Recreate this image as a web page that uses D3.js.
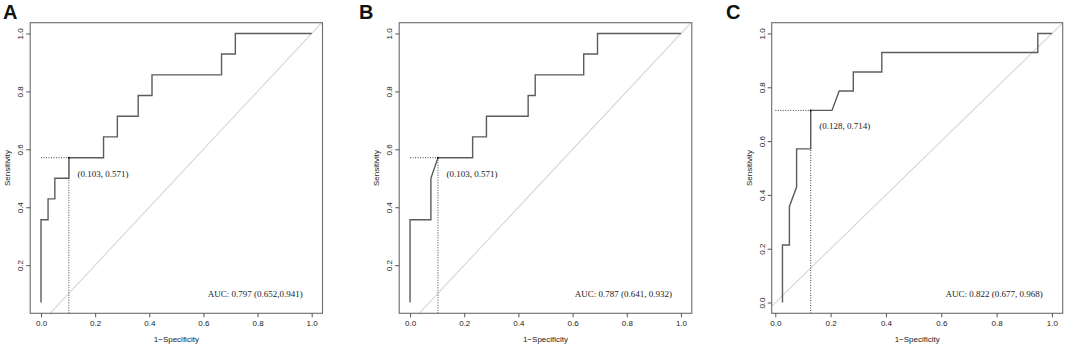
<!DOCTYPE html>
<html>
<head>
<meta charset="utf-8">
<script src="https://cdn.jsdelivr.net/npm/d3@7"></script>
<style>
  body { margin: 0; background: #fff; }
  svg { display: block; }
  .tick text { font-family: "Liberation Sans", Arial, sans-serif; font-size: 8px; fill: #222; }
</style>
</head>
<body>
<svg id="chart" width="1065" height="345"></svg>
<script>
// ROC curves (x = 1-specificity, y = sensitivity)
const fprA = [0, 0, 0.026, 0.026, 0.051, 0.051, 0.103, 0.103, 0.231, 0.231, 0.282, 0.282, 0.359, 0.359, 0.41, 0.41, 0.667, 0.667, 0.718, 0.718, 1];
const tprA = [0.071, 0.357, 0.357, 0.429, 0.429, 0.5, 0.5, 0.571, 0.571, 0.643, 0.643, 0.714, 0.714, 0.786, 0.786, 0.857, 0.857, 0.929, 0.929, 1, 1];

const fprB = [0, 0, 0.077, 0.077, 0.103, 0.231, 0.231, 0.282, 0.282, 0.436, 0.436, 0.462, 0.462, 0.641, 0.641, 0.692, 0.692, 1];
const tprB = [0.071, 0.357, 0.357, 0.5, 0.571, 0.571, 0.643, 0.643, 0.714, 0.714, 0.786, 0.786, 0.857, 0.857, 0.929, 0.929, 1, 1];

const fprC = [0.026, 0.026, 0.051, 0.051, 0.077, 0.077, 0.128, 0.128, 0.205, 0.231, 0.282, 0.282, 0.385, 0.385, 0.949, 0.949, 1];
const tprC = [0, 0.214, 0.214, 0.357, 0.429, 0.571, 0.571, 0.714, 0.714, 0.786, 0.786, 0.857, 0.857, 0.929, 0.929, 1, 1];

const panelLetters = ["A", "B", "C"];
const cutoffs = [[0.103, 0.571], [0.103, 0.571], [0.128, 0.714]];
const cutoffLabels = ["(0.103, 0.571)", "(0.103, 0.571)", "(0.128, 0.714)"];
const aucLabels = ["AUC: 0.797 (0.652,0.941)", "AUC: 0.787 (0.641, 0.932)", "AUC: 0.822 (0.677, 0.968)"];
const xTicks = [0, 0.2, 0.4, 0.6, 0.8, 1.0];
const yTicksAB = [0.2, 0.4, 0.6, 0.8, 1.0];
const yTicksC = [0, 0.2, 0.4, 0.6, 0.8, 1.0];

const panels = [
  {fpr: fprA, tpr: tprA, yTicks: yTicksAB, left: 30.2, right: 322.5, letterX: 3},
  {fpr: fprB, tpr: tprB, yTicks: yTicksAB, left: 399.2, right: 691.8, letterX: 359},
  {fpr: fprC, tpr: tprC, yTicks: yTicksC, left: 771.7, right: 1062.7, letterX: 726}
];
const plotTop = 22.7, plotBottom = 313.3;
const svg = d3.select("#chart");

// R style 4% padding on each side of the data range
function padded(lo, hi) {
  const p = (hi - lo) * 0.04;
  return [lo - p, hi + p];
}

panels.forEach((p, i) => {
  const g = svg.append("g");
  const x = d3.scaleLinear().domain(padded(d3.min(p.fpr), d3.max(p.fpr))).range([p.left, p.right]);
  const y = d3.scaleLinear().domain(padded(d3.min(p.tpr), d3.max(p.tpr))).range([plotBottom, plotTop]);
  const clipId = "clip" + i;

  g.append("clipPath").attr("id", clipId)
    .append("rect")
    .attr("x", p.left).attr("y", plotTop)
    .attr("width", p.right - p.left).attr("height", plotBottom - plotTop);

  // reference diagonal
  g.append("line")
    .attr("clip-path", `url(#${clipId})`)
    .attr("x1", x(-0.1)).attr("y1", y(-0.1))
    .attr("x2", x(1.1)).attr("y2", y(1.1))
    .attr("stroke", "#d6d6d6")
    .attr("stroke-width", 1.1);

  // cutoff guide lines
  const [cx, cy] = cutoffs[i];
  g.append("path")
    .attr("clip-path", `url(#${clipId})`)
    .attr("d", `M${x(0)},${y(cy)}H${x(cx)}V${y(Math.min(0, y.domain()[0]))}`)
    .attr("fill", "none")
    .attr("stroke", "#444")
    .attr("stroke-width", 1)
    .attr("stroke-dasharray", "1,1.5");

  // ROC curve
  const line = d3.line().x(d => x(d[0])).y(d => y(d[1]));
  g.append("path")
    .datum(p.fpr.map((v, j) => [v, p.tpr[j]]))
    .attr("d", line)
    .attr("fill", "none")
    .attr("stroke", "#5c5c5c")
    .attr("stroke-width", 1.4);

  g.append("circle")
    .attr("cx", x(cx)).attr("cy", y(cy)).attr("r", 1)
    .attr("fill", "#111");

  g.append("text")
    .attr("x", x(cx) + 8.5).attr("y", y(cy) + 19)
    .attr("font-family", "Liberation Serif, Times New Roman, serif")
    .attr("font-size", 9)
    .attr("fill", "#1a1a1a")
    .text(cutoffLabels[i]);

  g.append("text")
    .attr("x", x(0.967)).attr("y", plotBottom - 16.5)
    .attr("text-anchor", "end")
    .attr("font-family", "Liberation Serif, Times New Roman, serif")
    .attr("font-size", 9)
    .attr("fill", "#1a1a1a")
    .text(aucLabels[i]);

  // box
  g.append("rect")
    .attr("x", p.left).attr("y", plotTop)
    .attr("width", p.right - p.left).attr("height", plotBottom - plotTop)
    .attr("fill", "none")
    .attr("stroke", "#6a6a6a")
    .attr("stroke-width", 1.1);

  // axes
  const xAxis = g.append("g")
    .attr("transform", `translate(0,${plotBottom})`)
    .call(d3.axisBottom(x).tickValues(xTicks).tickFormat(d3.format(".1f")).tickSize(4).tickPadding(3));
  xAxis.select(".domain").remove();
  xAxis.selectAll(".tick line").attr("stroke", "#555");

  const yAxis = g.append("g")
    .attr("transform", `translate(${p.left},0)`)
    .call(d3.axisLeft(y).tickValues(p.yTicks).tickFormat(d3.format(".1f")).tickSize(4));
  yAxis.select(".domain").remove();
  yAxis.selectAll(".tick line").attr("stroke", "#555");
  yAxis.selectAll(".tick text")
    .attr("transform", "rotate(-90)")
    .attr("text-anchor", "middle")
    .attr("x", 0)
    .attr("y", -7)
    .attr("dy", 0);

  g.append("text")
    .attr("x", (p.left + p.right) / 2).attr("y", 342)
    .attr("text-anchor", "middle")
    .attr("font-family", "Liberation Sans, Arial, sans-serif")
    .attr("font-size", 8)
    .attr("fill", "#222")
    .text("1\u2212Specificity");

  g.append("text")
    .attr("transform", `translate(${p.left - 20},${(plotTop + plotBottom) / 2}) rotate(-90)`)
    .attr("text-anchor", "middle")
    .attr("font-family", "Liberation Sans, Arial, sans-serif")
    .attr("font-size", 8)
    .attr("fill", "#222")
    .text("Sensitivity");

  g.append("text")
    .attr("x", p.letterX).attr("y", 19)
    .attr("font-family", "Liberation Sans, Arial, sans-serif")
    .attr("font-weight", "bold")
    .attr("font-size", 20)
    .attr("fill", "#111")
    .text(panelLetters[i]);
});
</script>
</body>
</html>
